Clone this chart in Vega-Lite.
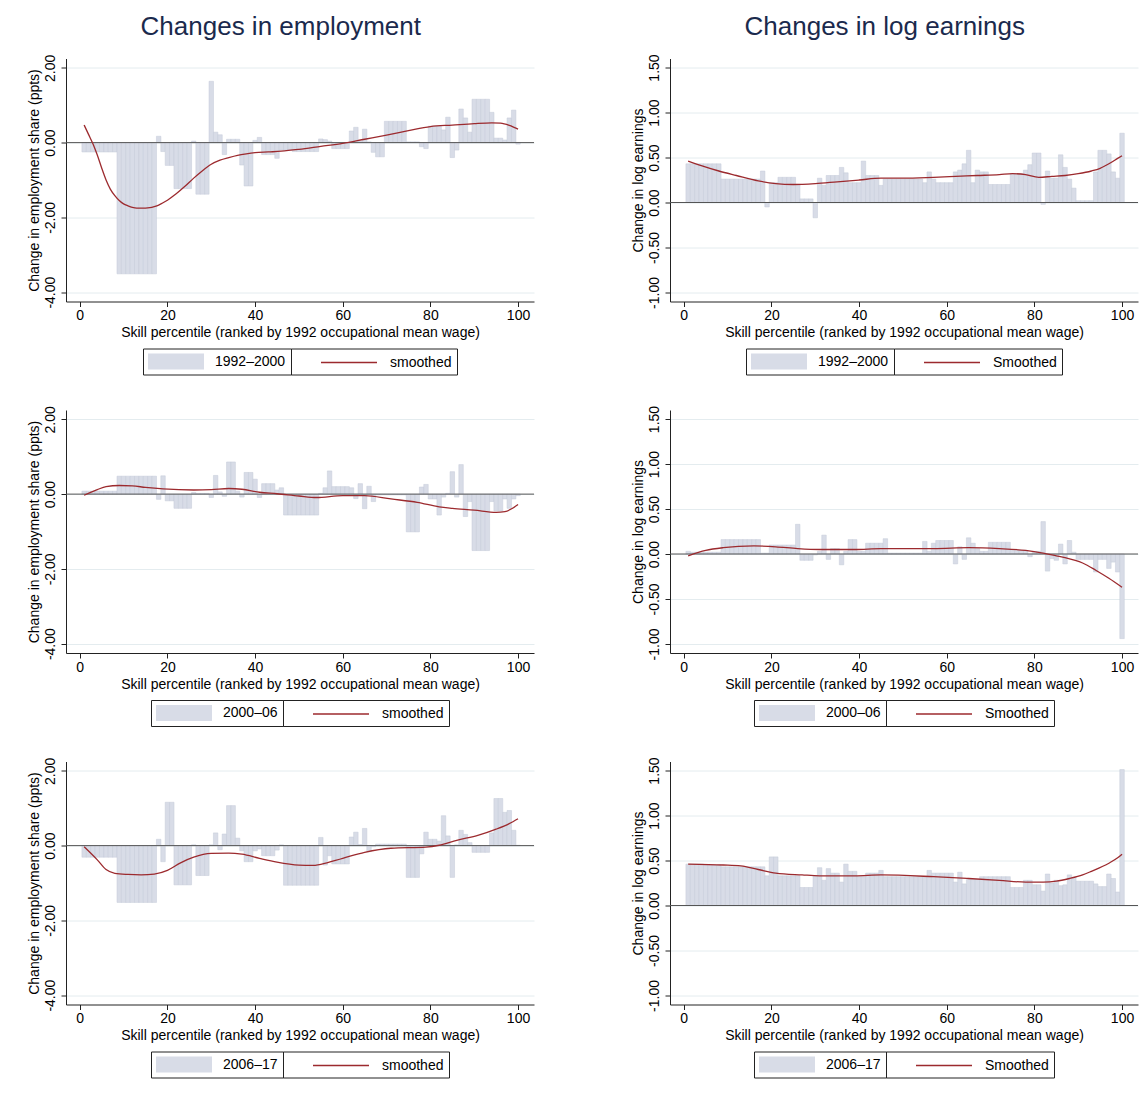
{
"$schema":"https://vega.github.io/schema/vega-lite/v6.json",
"background":"white",
"padding":{"left":27,"top":13.5,"right":4,"bottom":4},
"config":{"view":{"stroke":null},"font":"Liberation Sans",
"axis":{"labelFont":"Liberation Sans","titleFont":"Liberation Sans","labelFontSize":14,"titleFontSize":14,"titleFontWeight":"normal","labelColor":"#000","titleColor":"#000","domainColor":"#222","tickColor":"#222","tickSize":5,"gridColor":"#e4ecef"},
"axisX":{"grid":false,"labelPadding":2,"titlePadding":3,"labelFlush":false},
"axisY":{"grid":true,"labelAngle":-90,"labelAlign":"center","labelBaseline":"bottom","labelPadding":4,"titlePadding":2},
"legend":{"orient":"bottom","title":null,"offset":9,"padding":5,"strokeColor":"#222","symbolSize":256,"labelFontSize":14,"labelFont":"Liberation Sans","labelColor":"#000","labelLimit":300,"layout":{"bottom":{"anchor":"middle","direction":"horizontal","margin":0}}}},
"resolve":{"scale":{"fill":"independent","stroke":"independent"},"legend":{"fill":"independent","stroke":"independent"}},
"datasets":{
"b1":[{"p":1,"v":-0.25},{"p":2,"v":-0.25},{"p":3,"v":-0.25},{"p":4,"v":-0.25},{"p":5,"v":-0.25},{"p":6,"v":-0.25},{"p":7,"v":-0.25},{"p":8,"v":-0.25},{"p":9,"v":-3.51},{"p":10,"v":-3.51},{"p":11,"v":-3.51},{"p":12,"v":-3.51},{"p":13,"v":-3.51},{"p":14,"v":-3.51},{"p":15,"v":-3.51},{"p":16,"v":-3.51},{"p":17,"v":-3.51},{"p":18,"v":0.17},{"p":19,"v":-0.24},{"p":20,"v":-0.61},{"p":21,"v":-0.61},{"p":22,"v":-1.23},{"p":23,"v":-1.23},{"p":24,"v":-1.23},{"p":25,"v":-1.23},{"p":26,"v":0.04},{"p":27,"v":-1.38},{"p":28,"v":-1.38},{"p":29,"v":-1.38},{"p":30,"v":1.64},{"p":31,"v":0.28},{"p":32,"v":0.21},{"p":33,"v":-0.32},{"p":34,"v":0.09},{"p":35,"v":0.09},{"p":36,"v":0.09},{"p":37,"v":-0.6},{"p":38,"v":-1.16},{"p":39,"v":-1.16},{"p":40,"v":0.06},{"p":41,"v":0.14},{"p":42,"v":-0.32},{"p":43,"v":-0.32},{"p":44,"v":-0.32},{"p":45,"v":-0.42},{"p":46,"v":-0.2},{"p":47,"v":-0.2},{"p":48,"v":-0.2},{"p":49,"v":-0.24},{"p":50,"v":-0.24},{"p":51,"v":-0.24},{"p":52,"v":-0.24},{"p":53,"v":-0.24},{"p":54,"v":-0.24},{"p":55,"v":0.1},{"p":56,"v":0.08},{"p":57,"v":0.04},{"p":58,"v":-0.16},{"p":59,"v":-0.16},{"p":60,"v":-0.16},{"p":61,"v":-0.16},{"p":62,"v":0.31},{"p":63,"v":0.41},{"p":64,"v":0.04},{"p":65,"v":0.36},{"p":66,"v":0.02},{"p":67,"v":-0.26},{"p":68,"v":-0.38},{"p":69,"v":-0.38},{"p":70,"v":0.57},{"p":71,"v":0.57},{"p":72,"v":0.57},{"p":73,"v":0.57},{"p":74,"v":0.57},{"p":75,"v":0.02},{"p":76,"v":0.02},{"p":77,"v":0.02},{"p":78,"v":-0.11},{"p":79,"v":-0.16},{"p":80,"v":0.44},{"p":81,"v":0.44},{"p":82,"v":0.44},{"p":83,"v":0.34},{"p":84,"v":0.68},{"p":85,"v":-0.4},{"p":86,"v":-0.2},{"p":87,"v":0.9},{"p":88,"v":0.66},{"p":89,"v":0.28},{"p":90,"v":1.16},{"p":91,"v":1.16},{"p":92,"v":1.16},{"p":93,"v":1.16},{"p":94,"v":0.81},{"p":95,"v":0.12},{"p":96,"v":0.12},{"p":97,"v":0.07},{"p":98,"v":0.66},{"p":99,"v":0.87},{"p":100,"v":-0.04}],
"b2":[{"p":1,"v":0.43},{"p":2,"v":0.43},{"p":3,"v":0.43},{"p":4,"v":0.43},{"p":5,"v":0.43},{"p":6,"v":0.43},{"p":7,"v":0.43},{"p":8,"v":0.43},{"p":9,"v":0.26},{"p":10,"v":0.26},{"p":11,"v":0.26},{"p":12,"v":0.26},{"p":13,"v":0.26},{"p":14,"v":0.26},{"p":15,"v":0.26},{"p":16,"v":0.26},{"p":17,"v":0.26},{"p":18,"v":0.35},{"p":19,"v":-0.05},{"p":20,"v":0.22},{"p":21,"v":0.22},{"p":22,"v":0.28},{"p":23,"v":0.28},{"p":24,"v":0.28},{"p":25,"v":0.28},{"p":26,"v":0.2},{"p":27,"v":0.04},{"p":28,"v":0.04},{"p":29,"v":0.04},{"p":30,"v":-0.17},{"p":31,"v":0.27},{"p":32,"v":0.19},{"p":33,"v":0.3},{"p":34,"v":0.3},{"p":35,"v":0.3},{"p":36,"v":0.39},{"p":37,"v":0.33},{"p":38,"v":0.22},{"p":39,"v":0.22},{"p":40,"v":0.22},{"p":41,"v":0.46},{"p":42,"v":0.3},{"p":43,"v":0.3},{"p":44,"v":0.3},{"p":45,"v":0.19},{"p":46,"v":0.26},{"p":47,"v":0.26},{"p":48,"v":0.26},{"p":49,"v":0.26},{"p":50,"v":0.26},{"p":51,"v":0.26},{"p":52,"v":0.26},{"p":53,"v":0.26},{"p":54,"v":0.26},{"p":55,"v":0.22},{"p":56,"v":0.34},{"p":57,"v":0.26},{"p":58,"v":0.22},{"p":59,"v":0.22},{"p":60,"v":0.22},{"p":61,"v":0.22},{"p":62,"v":0.34},{"p":63,"v":0.36},{"p":64,"v":0.43},{"p":65,"v":0.58},{"p":66,"v":0.22},{"p":67,"v":0.36},{"p":68,"v":0.34},{"p":69,"v":0.34},{"p":70,"v":0.2},{"p":71,"v":0.2},{"p":72,"v":0.2},{"p":73,"v":0.2},{"p":74,"v":0.2},{"p":75,"v":0.32},{"p":76,"v":0.32},{"p":77,"v":0.32},{"p":78,"v":0.36},{"p":79,"v":0.42},{"p":80,"v":0.55},{"p":81,"v":0.55},{"p":82,"v":-0.02},{"p":83,"v":0.35},{"p":84,"v":0.27},{"p":85,"v":0.27},{"p":86,"v":0.53},{"p":87,"v":0.39},{"p":88,"v":0.26},{"p":89,"v":0.16},{"p":90,"v":0.02},{"p":91,"v":0.02},{"p":92,"v":0.02},{"p":93,"v":0.02},{"p":94,"v":0.34},{"p":95,"v":0.58},{"p":96,"v":0.58},{"p":97,"v":0.54},{"p":98,"v":0.34},{"p":99,"v":0.27},{"p":100,"v":0.77}],
"b3":[{"p":1,"v":0.08},{"p":2,"v":0.08},{"p":3,"v":0.08},{"p":4,"v":0.08},{"p":5,"v":0.08},{"p":6,"v":0.08},{"p":7,"v":0.08},{"p":8,"v":0.08},{"p":9,"v":0.48},{"p":10,"v":0.48},{"p":11,"v":0.48},{"p":12,"v":0.48},{"p":13,"v":0.48},{"p":14,"v":0.48},{"p":15,"v":0.48},{"p":16,"v":0.48},{"p":17,"v":0.48},{"p":18,"v":-0.14},{"p":19,"v":0.49},{"p":20,"v":-0.18},{"p":21,"v":-0.18},{"p":22,"v":-0.38},{"p":23,"v":-0.38},{"p":24,"v":-0.38},{"p":25,"v":-0.38},{"p":26,"v":0.04},{"p":27,"v":0.02},{"p":28,"v":0.02},{"p":29,"v":0.02},{"p":30,"v":-0.09},{"p":31,"v":0.5},{"p":32,"v":0.06},{"p":33,"v":-0.06},{"p":34,"v":0.86},{"p":35,"v":0.86},{"p":36,"v":0.08},{"p":37,"v":-0.08},{"p":38,"v":0.58},{"p":39,"v":0.58},{"p":40,"v":0.4},{"p":41,"v":-0.09},{"p":42,"v":0.28},{"p":43,"v":0.28},{"p":44,"v":0.28},{"p":45,"v":0.11},{"p":46,"v":0.17},{"p":47,"v":-0.56},{"p":48,"v":-0.56},{"p":49,"v":-0.56},{"p":50,"v":-0.56},{"p":51,"v":-0.56},{"p":52,"v":-0.56},{"p":53,"v":-0.56},{"p":54,"v":-0.56},{"p":55,"v":0.02},{"p":56,"v":0.17},{"p":57,"v":0.62},{"p":58,"v":0.2},{"p":59,"v":0.2},{"p":60,"v":0.2},{"p":61,"v":0.2},{"p":62,"v":0.17},{"p":63,"v":-0.12},{"p":64,"v":0.28},{"p":65,"v":-0.39},{"p":66,"v":0.21},{"p":67,"v":-0.2},{"p":68,"v":-0.02},{"p":69,"v":-0.02},{"p":70,"v":-0.02},{"p":71,"v":-0.02},{"p":72,"v":-0.02},{"p":73,"v":-0.02},{"p":74,"v":-0.02},{"p":75,"v":-1.01},{"p":76,"v":-1.01},{"p":77,"v":-1.01},{"p":78,"v":0.19},{"p":79,"v":0.26},{"p":80,"v":-0.13},{"p":81,"v":-0.13},{"p":82,"v":-0.56},{"p":83,"v":-0.08},{"p":84,"v":0.02},{"p":85,"v":0.6},{"p":86,"v":-0.08},{"p":87,"v":0.79},{"p":88,"v":-0.6},{"p":89,"v":-0.2},{"p":90,"v":-1.51},{"p":91,"v":-1.51},{"p":92,"v":-1.51},{"p":93,"v":-1.51},{"p":94,"v":-0.2},{"p":95,"v":-0.45},{"p":96,"v":-0.45},{"p":97,"v":-0.13},{"p":98,"v":-0.38},{"p":99,"v":-0.13},{"p":100,"v":-0.04}],
"b4":[{"p":1,"v":0.03},{"p":2,"v":0.02},{"p":3,"v":0.02},{"p":4,"v":0.02},{"p":5,"v":0.02},{"p":6,"v":0.02},{"p":7,"v":0.02},{"p":8,"v":0.02},{"p":9,"v":0.16},{"p":10,"v":0.16},{"p":11,"v":0.16},{"p":12,"v":0.16},{"p":13,"v":0.16},{"p":14,"v":0.16},{"p":15,"v":0.16},{"p":16,"v":0.16},{"p":17,"v":0.16},{"p":18,"v":0.01},{"p":19,"v":0.01},{"p":20,"v":0.1},{"p":21,"v":0.1},{"p":22,"v":0.1},{"p":23,"v":0.1},{"p":24,"v":0.1},{"p":25,"v":0.1},{"p":26,"v":0.33},{"p":27,"v":-0.07},{"p":28,"v":-0.07},{"p":29,"v":-0.07},{"p":30,"v":-0.01},{"p":31,"v":0.03},{"p":32,"v":0.21},{"p":33,"v":-0.06},{"p":34,"v":0.06},{"p":35,"v":0.06},{"p":36,"v":-0.12},{"p":37,"v":0.03},{"p":38,"v":0.16},{"p":39,"v":0.16},{"p":40,"v":0.03},{"p":41,"v":0.03},{"p":42,"v":0.12},{"p":43,"v":0.12},{"p":44,"v":0.12},{"p":45,"v":0.12},{"p":46,"v":0.17},{"p":47,"v":0.01},{"p":48,"v":0.01},{"p":49,"v":0.01},{"p":50,"v":0.01},{"p":51,"v":0.01},{"p":52,"v":0.01},{"p":53,"v":0.01},{"p":54,"v":0.01},{"p":55,"v":0.14},{"p":56,"v":0.03},{"p":57,"v":0.12},{"p":58,"v":0.15},{"p":59,"v":0.15},{"p":60,"v":0.15},{"p":61,"v":0.15},{"p":62,"v":-0.11},{"p":63,"v":0.08},{"p":64,"v":-0.06},{"p":65,"v":0.18},{"p":66,"v":0.12},{"p":67,"v":0.06},{"p":68,"v":0.03},{"p":69,"v":0.03},{"p":70,"v":0.13},{"p":71,"v":0.13},{"p":72,"v":0.13},{"p":73,"v":0.13},{"p":74,"v":0.13},{"p":75,"v":0.04},{"p":76,"v":0.04},{"p":77,"v":0.04},{"p":78,"v":0.04},{"p":79,"v":-0.03},{"p":80,"v":0.03},{"p":81,"v":0.03},{"p":82,"v":0.36},{"p":83,"v":-0.19},{"p":84,"v":-0.05},{"p":85,"v":-0.07},{"p":86,"v":0.11},{"p":87,"v":-0.11},{"p":88,"v":0.15},{"p":89,"v":0.02},{"p":90,"v":-0.06},{"p":91,"v":-0.06},{"p":92,"v":-0.06},{"p":93,"v":-0.06},{"p":94,"v":-0.2},{"p":95,"v":-0.06},{"p":96,"v":-0.06},{"p":97,"v":-0.16},{"p":98,"v":-0.09},{"p":99,"v":-0.2},{"p":100,"v":-0.94}],
"b5":[{"p":1,"v":-0.31},{"p":2,"v":-0.31},{"p":3,"v":-0.31},{"p":4,"v":-0.31},{"p":5,"v":-0.31},{"p":6,"v":-0.31},{"p":7,"v":-0.31},{"p":8,"v":-0.31},{"p":9,"v":-1.52},{"p":10,"v":-1.52},{"p":11,"v":-1.52},{"p":12,"v":-1.52},{"p":13,"v":-1.52},{"p":14,"v":-1.52},{"p":15,"v":-1.52},{"p":16,"v":-1.52},{"p":17,"v":-1.52},{"p":18,"v":0.17},{"p":19,"v":-0.43},{"p":20,"v":1.16},{"p":21,"v":1.16},{"p":22,"v":-1.05},{"p":23,"v":-1.05},{"p":24,"v":-1.05},{"p":25,"v":-1.05},{"p":26,"v":0.02},{"p":27,"v":-0.8},{"p":28,"v":-0.8},{"p":29,"v":-0.8},{"p":30,"v":0.02},{"p":31,"v":0.34},{"p":32,"v":-0.11},{"p":33,"v":0.31},{"p":34,"v":1.07},{"p":35,"v":1.07},{"p":36,"v":0.2},{"p":37,"v":-0.14},{"p":38,"v":-0.43},{"p":39,"v":-0.43},{"p":40,"v":-0.14},{"p":41,"v":-0.09},{"p":42,"v":-0.27},{"p":43,"v":-0.27},{"p":44,"v":-0.27},{"p":45,"v":-0.12},{"p":46,"v":0.02},{"p":47,"v":-1.06},{"p":48,"v":-1.06},{"p":49,"v":-1.06},{"p":50,"v":-1.06},{"p":51,"v":-1.06},{"p":52,"v":-1.06},{"p":53,"v":-1.06},{"p":54,"v":-1.06},{"p":55,"v":0.22},{"p":56,"v":-0.52},{"p":57,"v":-0.27},{"p":58,"v":-0.49},{"p":59,"v":-0.49},{"p":60,"v":-0.49},{"p":61,"v":-0.49},{"p":62,"v":0.23},{"p":63,"v":0.36},{"p":64,"v":0.03},{"p":65,"v":0.46},{"p":66,"v":-0.16},{"p":67,"v":-0.03},{"p":68,"v":0.04},{"p":69,"v":0.04},{"p":70,"v":0.04},{"p":71,"v":0.04},{"p":72,"v":0.04},{"p":73,"v":0.04},{"p":74,"v":0.04},{"p":75,"v":-0.85},{"p":76,"v":-0.85},{"p":77,"v":-0.85},{"p":78,"v":-0.22},{"p":79,"v":0.36},{"p":80,"v":0.17},{"p":81,"v":0.17},{"p":82,"v":0.12},{"p":83,"v":0.8},{"p":84,"v":0.26},{"p":85,"v":-0.85},{"p":86,"v":0.02},{"p":87,"v":0.41},{"p":88,"v":0.3},{"p":89,"v":0.08},{"p":90,"v":-0.18},{"p":91,"v":-0.18},{"p":92,"v":-0.18},{"p":93,"v":-0.18},{"p":94,"v":0.34},{"p":95,"v":1.26},{"p":96,"v":1.26},{"p":97,"v":0.89},{"p":98,"v":0.94},{"p":99,"v":0.41},{"p":100,"v":0.01}],
"b6":[{"p":1,"v":0.46},{"p":2,"v":0.46},{"p":3,"v":0.46},{"p":4,"v":0.46},{"p":5,"v":0.45},{"p":6,"v":0.45},{"p":7,"v":0.45},{"p":8,"v":0.45},{"p":9,"v":0.43},{"p":10,"v":0.43},{"p":11,"v":0.43},{"p":12,"v":0.43},{"p":13,"v":0.43},{"p":14,"v":0.43},{"p":15,"v":0.43},{"p":16,"v":0.43},{"p":17,"v":0.43},{"p":18,"v":0.43},{"p":19,"v":0.33},{"p":20,"v":0.54},{"p":21,"v":0.54},{"p":22,"v":0.33},{"p":23,"v":0.33},{"p":24,"v":0.33},{"p":25,"v":0.33},{"p":26,"v":0.33},{"p":27,"v":0.2},{"p":28,"v":0.2},{"p":29,"v":0.2},{"p":30,"v":0.33},{"p":31,"v":0.42},{"p":32,"v":0.28},{"p":33,"v":0.41},{"p":34,"v":0.36},{"p":35,"v":0.36},{"p":36,"v":0.26},{"p":37,"v":0.46},{"p":38,"v":0.38},{"p":39,"v":0.38},{"p":40,"v":0.32},{"p":41,"v":0.32},{"p":42,"v":0.36},{"p":43,"v":0.36},{"p":44,"v":0.36},{"p":45,"v":0.39},{"p":46,"v":0.32},{"p":47,"v":0.32},{"p":48,"v":0.32},{"p":49,"v":0.32},{"p":50,"v":0.32},{"p":51,"v":0.32},{"p":52,"v":0.32},{"p":53,"v":0.32},{"p":54,"v":0.32},{"p":55,"v":0.32},{"p":56,"v":0.39},{"p":57,"v":0.36},{"p":58,"v":0.36},{"p":59,"v":0.36},{"p":60,"v":0.36},{"p":61,"v":0.36},{"p":62,"v":0.26},{"p":63,"v":0.37},{"p":64,"v":0.24},{"p":65,"v":0.29},{"p":66,"v":0.29},{"p":67,"v":0.29},{"p":68,"v":0.32},{"p":69,"v":0.32},{"p":70,"v":0.32},{"p":71,"v":0.32},{"p":72,"v":0.32},{"p":73,"v":0.32},{"p":74,"v":0.32},{"p":75,"v":0.2},{"p":76,"v":0.2},{"p":77,"v":0.2},{"p":78,"v":0.28},{"p":79,"v":0.28},{"p":80,"v":0.23},{"p":81,"v":0.23},{"p":82,"v":0.16},{"p":83,"v":0.35},{"p":84,"v":0.25},{"p":85,"v":0.28},{"p":86,"v":0.22},{"p":87,"v":0.23},{"p":88,"v":0.34},{"p":89,"v":0.31},{"p":90,"v":0.27},{"p":91,"v":0.27},{"p":92,"v":0.27},{"p":93,"v":0.27},{"p":94,"v":0.24},{"p":95,"v":0.21},{"p":96,"v":0.21},{"p":97,"v":0.35},{"p":98,"v":0.3},{"p":99,"v":0.15},{"p":100,"v":1.51}],
"s1":[{"p":1,"v":0.47},{"p":2,"v":0.22},{"p":3,"v":-0.03},{"p":4,"v":-0.33},{"p":5,"v":-0.68},{"p":6,"v":-1.0},{"p":7,"v":-1.25},{"p":8,"v":-1.42},{"p":9,"v":-1.55},{"p":10,"v":-1.64},{"p":11,"v":-1.69},{"p":12,"v":-1.73},{"p":13,"v":-1.75},{"p":14,"v":-1.75},{"p":15,"v":-1.75},{"p":16,"v":-1.74},{"p":17,"v":-1.71},{"p":18,"v":-1.67},{"p":19,"v":-1.61},{"p":20,"v":-1.54},{"p":22,"v":-1.37},{"p":24,"v":-1.17},{"p":26,"v":-0.95},{"p":28,"v":-0.75},{"p":30,"v":-0.58},{"p":32,"v":-0.47},{"p":34,"v":-0.4},{"p":36,"v":-0.34},{"p":38,"v":-0.3},{"p":40,"v":-0.27},{"p":43,"v":-0.25},{"p":46,"v":-0.23},{"p":50,"v":-0.18},{"p":55,"v":-0.1},{"p":60,"v":-0.02},{"p":65,"v":0.09},{"p":70,"v":0.2},{"p":75,"v":0.32},{"p":80,"v":0.43},{"p":85,"v":0.47},{"p":90,"v":0.51},{"p":94,"v":0.53},{"p":96,"v":0.52},{"p":98,"v":0.46},{"p":100,"v":0.36}],
"s2":[{"p":1,"v":0.46},{"p":4,"v":0.41},{"p":8,"v":0.35},{"p":12,"v":0.3},{"p":17,"v":0.24},{"p":21,"v":0.21},{"p":25,"v":0.2},{"p":30,"v":0.21},{"p":35,"v":0.23},{"p":40,"v":0.25},{"p":45,"v":0.27},{"p":50,"v":0.27},{"p":57,"v":0.28},{"p":62,"v":0.29},{"p":67,"v":0.3},{"p":72,"v":0.31},{"p":75,"v":0.32},{"p":78,"v":0.31},{"p":81,"v":0.28},{"p":84,"v":0.29},{"p":87,"v":0.3},{"p":90,"v":0.32},{"p":93,"v":0.35},{"p":95,"v":0.38},{"p":97,"v":0.43},{"p":99,"v":0.49},{"p":100,"v":0.52}],
"s3":[{"p":1,"v":-0.03},{"p":4,"v":0.12},{"p":6,"v":0.2},{"p":9,"v":0.23},{"p":12,"v":0.22},{"p":15,"v":0.18},{"p":19,"v":0.14},{"p":26,"v":0.11},{"p":30,"v":0.12},{"p":34,"v":0.15},{"p":37,"v":0.13},{"p":41,"v":0.05},{"p":45,"v":0.01},{"p":50,"v":-0.05},{"p":54,"v":-0.09},{"p":60,"v":-0.04},{"p":65,"v":-0.04},{"p":71,"v":-0.13},{"p":77,"v":-0.22},{"p":82,"v":-0.34},{"p":85,"v":-0.38},{"p":90,"v":-0.43},{"p":95,"v":-0.49},{"p":97,"v":-0.47},{"p":99,"v":-0.36},{"p":100,"v":-0.28}],
"s4":[{"p":1,"v":-0.02},{"p":5,"v":0.04},{"p":9,"v":0.07},{"p":16,"v":0.09},{"p":21,"v":0.08},{"p":26,"v":0.06},{"p":31,"v":0.05},{"p":39,"v":0.05},{"p":45,"v":0.06},{"p":57,"v":0.06},{"p":65,"v":0.07},{"p":72,"v":0.06},{"p":78,"v":0.04},{"p":82,"v":0.01},{"p":85,"v":-0.02},{"p":87,"v":-0.04},{"p":91,"v":-0.1},{"p":94,"v":-0.18},{"p":97,"v":-0.27},{"p":100,"v":-0.37}],
"s5":[{"p":1,"v":-0.03},{"p":4,"v":-0.38},{"p":6,"v":-0.64},{"p":8,"v":-0.74},{"p":11,"v":-0.77},{"p":14,"v":-0.78},{"p":17,"v":-0.76},{"p":20,"v":-0.66},{"p":23,"v":-0.46},{"p":26,"v":-0.31},{"p":30,"v":-0.21},{"p":34,"v":-0.2},{"p":37,"v":-0.23},{"p":41,"v":-0.34},{"p":45,"v":-0.44},{"p":50,"v":-0.52},{"p":53,"v":-0.53},{"p":55,"v":-0.5},{"p":60,"v":-0.34},{"p":65,"v":-0.18},{"p":71,"v":-0.07},{"p":79,"v":-0.04},{"p":82,"v":0.01},{"p":86,"v":0.14},{"p":91,"v":0.28},{"p":95,"v":0.44},{"p":98,"v":0.59},{"p":100,"v":0.72}],
"s6":[{"p":1,"v":0.46},{"p":9,"v":0.45},{"p":13,"v":0.44},{"p":17,"v":0.4},{"p":21,"v":0.36},{"p":27,"v":0.34},{"p":31,"v":0.33},{"p":39,"v":0.33},{"p":45,"v":0.34},{"p":57,"v":0.32},{"p":65,"v":0.3},{"p":72,"v":0.28},{"p":78,"v":0.26},{"p":82,"v":0.26},{"p":85,"v":0.27},{"p":88,"v":0.3},{"p":91,"v":0.34},{"p":93,"v":0.38},{"p":97,"v":0.47},{"p":99,"v":0.53},{"p":100,"v":0.57}]
},
"vconcat":[
{"hconcat":[
{"width":468,"height":243,
"title":{"text":"Changes in employment","fontSize":26,"font":"Liberation Sans","fontWeight":"normal","color":"#1b2a4d","anchor":"middle","frame":"bounds","offset":14},
"layer":[
{"data":{"name":"b1"},"mark":{"type":"bar","width":4.48,"stroke":"#c5cad8","strokeWidth":0.5},
"encoding":{"x":{"field":"p","type":"quantitative","scale":{"domain":[-2,102.5],"nice":false,"zero":false},"axis":{"values":[0,20,40,60,80,100],"title":"Skill percentile (ranked by 1992 occupational mean wage)"}},
"y":{"field":"v","type":"quantitative","scale":{"domain":[-4.25,2.25],"nice":false},"axis":{"values":[-4,-2,0,2],"title":"Change in employment share (ppts)","labelExpr":"(datum.value<0?'-':'')+format(abs(datum.value),'.2f')"}},
"fill":{"datum":"1992–2000","scale":{"range":["#d8dce7"]},"legend":{"symbolType":"M-1,-1H6V1H-1Z","symbolStrokeWidth":0,"labelOffset":51}}}},
{"data":{"values":[{"v":0}]},"mark":{"type":"rule","color":"#555","strokeWidth":1},"encoding":{"y":{"field":"v","type":"quantitative"}}},
{"data":{"name":"s1"},"mark":{"type":"line","interpolate":"monotone","strokeWidth":1.3},"encoding":{"x":{"field":"p","type":"quantitative"},"y":{"field":"v","type":"quantitative"},"stroke":{"datum":"smoothed","scale":{"range":["#9c2a2e"]},"legend":{"symbolType":"M2,0H9","symbolStrokeWidth":1.3,"labelOffset":76}}}}
]},
{"width":468,"height":243,
"title":{"text":"Changes in log earnings","fontSize":26,"font":"Liberation Sans","fontWeight":"normal","color":"#1b2a4d","anchor":"middle","frame":"bounds","offset":14},
"layer":[
{"data":{"name":"b2"},"mark":{"type":"bar","width":4.48,"stroke":"#c5cad8","strokeWidth":0.5},
"encoding":{"x":{"field":"p","type":"quantitative","scale":{"domain":[-2,102.5],"nice":false,"zero":false},"axis":{"values":[0,20,40,60,80,100],"title":"Skill percentile (ranked by 1992 occupational mean wage)"}},
"y":{"field":"v","type":"quantitative","scale":{"domain":[-1.1,1.6],"nice":false},"axis":{"values":[-1,-0.5,0,0.5,1,1.5],"title":"Change in log earnings","labelExpr":"(datum.value<0?'-':'')+format(abs(datum.value),'.2f')"}},
"fill":{"datum":"1992–2000","scale":{"range":["#d8dce7"]},"legend":{"symbolType":"M-1,-1H6V1H-1Z","symbolStrokeWidth":0,"labelOffset":51}}}},
{"data":{"values":[{"v":0}]},"mark":{"type":"rule","color":"#555","strokeWidth":1},"encoding":{"y":{"field":"v","type":"quantitative"}}},
{"data":{"name":"s2"},"mark":{"type":"line","interpolate":"monotone","strokeWidth":1.3},"encoding":{"x":{"field":"p","type":"quantitative"},"y":{"field":"v","type":"quantitative"},"stroke":{"datum":"Smoothed","scale":{"range":["#9c2a2e"]},"legend":{"symbolType":"M2,0H9","symbolStrokeWidth":1.3,"labelOffset":76}}}}
]}
],"spacing":96,"resolve":{"scale":{"fill":"independent","stroke":"independent"},"legend":{"fill":"independent","stroke":"independent"}}},
{"hconcat":[
{"width":468,"height":243,
"layer":[
{"data":{"name":"b3"},"mark":{"type":"bar","width":4.48,"stroke":"#c5cad8","strokeWidth":0.5},
"encoding":{"x":{"field":"p","type":"quantitative","scale":{"domain":[-2,102.5],"nice":false,"zero":false},"axis":{"values":[0,20,40,60,80,100],"title":"Skill percentile (ranked by 1992 occupational mean wage)"}},
"y":{"field":"v","type":"quantitative","scale":{"domain":[-4.25,2.25],"nice":false},"axis":{"values":[-4,-2,0,2],"title":"Change in employment share (ppts)","labelExpr":"(datum.value<0?'-':'')+format(abs(datum.value),'.2f')"}},
"fill":{"datum":"2000–06","scale":{"range":["#d8dce7"]},"legend":{"symbolType":"M-1,-1H6V1H-1Z","symbolStrokeWidth":0,"labelOffset":51}}}},
{"data":{"values":[{"v":0}]},"mark":{"type":"rule","color":"#555","strokeWidth":1},"encoding":{"y":{"field":"v","type":"quantitative"}}},
{"data":{"name":"s3"},"mark":{"type":"line","interpolate":"monotone","strokeWidth":1.3},"encoding":{"x":{"field":"p","type":"quantitative"},"y":{"field":"v","type":"quantitative"},"stroke":{"datum":"smoothed","scale":{"range":["#9c2a2e"]},"legend":{"symbolType":"M2,0H9","symbolStrokeWidth":1.3,"labelOffset":76}}}}
]},
{"width":468,"height":243,
"layer":[
{"data":{"name":"b4"},"mark":{"type":"bar","width":4.48,"stroke":"#c5cad8","strokeWidth":0.5},
"encoding":{"x":{"field":"p","type":"quantitative","scale":{"domain":[-2,102.5],"nice":false,"zero":false},"axis":{"values":[0,20,40,60,80,100],"title":"Skill percentile (ranked by 1992 occupational mean wage)"}},
"y":{"field":"v","type":"quantitative","scale":{"domain":[-1.1,1.6],"nice":false},"axis":{"values":[-1,-0.5,0,0.5,1,1.5],"title":"Change in log earnings","labelExpr":"(datum.value<0?'-':'')+format(abs(datum.value),'.2f')"}},
"fill":{"datum":"2000–06","scale":{"range":["#d8dce7"]},"legend":{"symbolType":"M-1,-1H6V1H-1Z","symbolStrokeWidth":0,"labelOffset":51}}}},
{"data":{"values":[{"v":0}]},"mark":{"type":"rule","color":"#555","strokeWidth":1},"encoding":{"y":{"field":"v","type":"quantitative"}}},
{"data":{"name":"s4"},"mark":{"type":"line","interpolate":"monotone","strokeWidth":1.3},"encoding":{"x":{"field":"p","type":"quantitative"},"y":{"field":"v","type":"quantitative"},"stroke":{"datum":"Smoothed","scale":{"range":["#9c2a2e"]},"legend":{"symbolType":"M2,0H9","symbolStrokeWidth":1.3,"labelOffset":76}}}}
]}
],"spacing":96,"resolve":{"scale":{"fill":"independent","stroke":"independent"},"legend":{"fill":"independent","stroke":"independent"}}},
{"hconcat":[
{"width":468,"height":243,
"layer":[
{"data":{"name":"b5"},"mark":{"type":"bar","width":4.48,"stroke":"#c5cad8","strokeWidth":0.5},
"encoding":{"x":{"field":"p","type":"quantitative","scale":{"domain":[-2,102.5],"nice":false,"zero":false},"axis":{"values":[0,20,40,60,80,100],"title":"Skill percentile (ranked by 1992 occupational mean wage)"}},
"y":{"field":"v","type":"quantitative","scale":{"domain":[-4.25,2.25],"nice":false},"axis":{"values":[-4,-2,0,2],"title":"Change in employment share (ppts)","labelExpr":"(datum.value<0?'-':'')+format(abs(datum.value),'.2f')"}},
"fill":{"datum":"2006–17","scale":{"range":["#d8dce7"]},"legend":{"symbolType":"M-1,-1H6V1H-1Z","symbolStrokeWidth":0,"labelOffset":51}}}},
{"data":{"values":[{"v":0}]},"mark":{"type":"rule","color":"#555","strokeWidth":1},"encoding":{"y":{"field":"v","type":"quantitative"}}},
{"data":{"name":"s5"},"mark":{"type":"line","interpolate":"monotone","strokeWidth":1.3},"encoding":{"x":{"field":"p","type":"quantitative"},"y":{"field":"v","type":"quantitative"},"stroke":{"datum":"smoothed","scale":{"range":["#9c2a2e"]},"legend":{"symbolType":"M2,0H9","symbolStrokeWidth":1.3,"labelOffset":76}}}}
]},
{"width":468,"height":243,
"layer":[
{"data":{"name":"b6"},"mark":{"type":"bar","width":4.48,"stroke":"#c5cad8","strokeWidth":0.5},
"encoding":{"x":{"field":"p","type":"quantitative","scale":{"domain":[-2,102.5],"nice":false,"zero":false},"axis":{"values":[0,20,40,60,80,100],"title":"Skill percentile (ranked by 1992 occupational mean wage)"}},
"y":{"field":"v","type":"quantitative","scale":{"domain":[-1.1,1.6],"nice":false},"axis":{"values":[-1,-0.5,0,0.5,1,1.5],"title":"Change in log earnings","labelExpr":"(datum.value<0?'-':'')+format(abs(datum.value),'.2f')"}},
"fill":{"datum":"2006–17","scale":{"range":["#d8dce7"]},"legend":{"symbolType":"M-1,-1H6V1H-1Z","symbolStrokeWidth":0,"labelOffset":51}}}},
{"data":{"values":[{"v":0}]},"mark":{"type":"rule","color":"#555","strokeWidth":1},"encoding":{"y":{"field":"v","type":"quantitative"}}},
{"data":{"name":"s6"},"mark":{"type":"line","interpolate":"monotone","strokeWidth":1.3},"encoding":{"x":{"field":"p","type":"quantitative"},"y":{"field":"v","type":"quantitative"},"stroke":{"datum":"Smoothed","scale":{"range":["#9c2a2e"]},"legend":{"symbolType":"M2,0H9","symbolStrokeWidth":1.3,"labelOffset":76}}}}
]}
],"spacing":96,"resolve":{"scale":{"fill":"independent","stroke":"independent"},"legend":{"fill":"independent","stroke":"independent"}}}
],
"spacing":29.5
}
